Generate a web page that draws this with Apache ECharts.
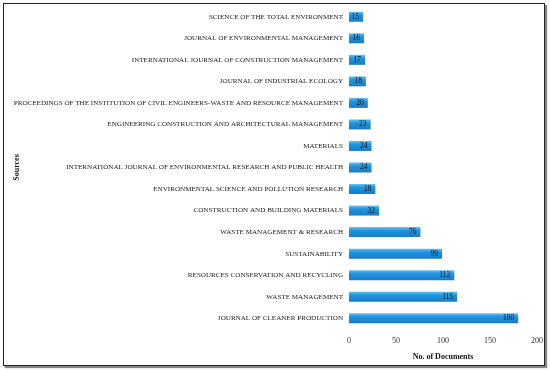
<!DOCTYPE html>
<html><head><meta charset="utf-8">
<script src="https://cdn.jsdelivr.net/npm/echarts@6/dist/echarts.min.js"></script>
<style>
html,body{margin:0;padding:0;background:#fff;}
#frame{position:absolute;left:3px;top:3px;width:540px;height:361px;border:1.5px solid #222;box-shadow:2px 2px 1px #888;}
#c{position:absolute;left:0;top:0;width:550px;height:371px;}
</style></head>
<body>
<div id="frame"></div>
<div id="c"></div>
<script>
const categories = [
  "JOURNAL OF CLEANER PRODUCTION",
  "WASTE MANAGEMENT",
  "RESOURCES CONSERVATION AND RECYCLING",
  "SUSTAINABILITY",
  "WASTE MANAGEMENT & RESEARCH",
  "CONSTRUCTION AND BUILDING MATERIALS",
  "ENVIRONMENTAL SCIENCE AND POLLUTION RESEARCH",
  "INTERNATIONAL JOURNAL OF ENVIRONMENTAL RESEARCH AND PUBLIC HEALTH",
  "MATERIALS",
  "ENGINEERING CONSTRUCTION AND ARCHITECTURAL MANAGEMENT",
  "PROCEEDINGS OF THE INSTITUTION OF CIVIL ENGINEERS-WASTE AND RESOURCE MANAGEMENT",
  "JOURNAL OF INDUSTRIAL ECOLOGY",
  "INTERNATIONAL JOURNAL OF CONSTRUCTION MANAGEMENT",
  "JOURNAL OF ENVIRONMENTAL MANAGEMENT",
  "SCIENCE OF THE TOTAL ENVIRONMENT"
];
const documents = [180, 115, 112, 99, 76, 32, 28, 24, 24, 23, 20, 18, 17, 16, 15];
const xTicks = [0, 50, 100, 150, 200];

const chart = echarts.init(document.getElementById('c'), null, {renderer:'canvas'});
const serif = "'Liberation Serif', 'DejaVu Serif', serif";
chart.setOption({
  animation:false,
  grid:{left:349, right:13, top:6, bottom:42, containLabel:false, outerBoundsMode:'none'},
  xAxis:{
    type:'value', min:xTicks[0], max:xTicks[xTicks.length-1], interval:50,
    name:'No. of Documents', nameLocation:'middle', nameGap:24, nameMoveOverlap:false,
    nameTextStyle:{fontFamily:serif, fontSize:8, fontWeight:'bold', color:'#111'},
    axisLine:{show:false}, axisTick:{show:false}, splitLine:{show:false},
    axisLabel:{fontFamily:serif, fontSize:8, color:'#333', margin:8}
  },
  yAxis:{
    type:'category', data:categories,
    name:'Sources', nameLocation:'middle', nameGap:328, nameRotate:90, nameMoveOverlap:false,
    nameTextStyle:{fontFamily:serif, fontSize:8, fontWeight:'bold', color:'#111'},
    axisLine:{show:false}, axisTick:{show:false},
    axisLabel:{fontFamily:serif, fontSize:7.1, color:'#222', margin:6}
  },
  series:[{
    type:'bar', data:documents, barWidth:10,
    itemStyle:{color:new echarts.graphic.LinearGradient(0,0,0,1,[
      {offset:0,color:'#6cc0f0'},{offset:0.35,color:'#1e94de'},{offset:1,color:'#1a7cc4'}])},
    label:{show:true, position:'insideRight', distance:4, fontFamily:serif, fontSize:7.5, color:'#111'}
  }]
});
</script>
</body></html>
